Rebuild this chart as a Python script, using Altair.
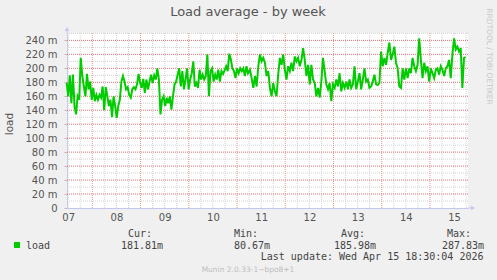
import altair as alt
import numpy as np
import pandas as pd

# ---- data (load, in milli-units) ----
load_part1 = [179, 160, 190, 150, 191, 146, 134, 160, 155, 215, 189, 174, 160, 192, 170,
              181, 155, 172, 153, 162, 155, 162, 158, 174, 140, 173, 160, 146, 155, 130,
              160, 146, 129, 146, 155, 181, 189, 181, 170, 173, 162, 158, 170, 173, 170,
              177, 192, 179, 172, 185, 165, 184, 170, 181, 191, 179, 190, 184, 200, 184,
              134, 155, 160, 146, 158, 150, 160, 141, 160, 177, 181, 191, 200, 174, 196,
              170, 184, 200, 170, 184, 193, 210, 174, 179, 172, 198, 184, 191, 184, 189,
              220, 160, 196, 200, 181, 191, 184, 198, 181, 196, 192, 197, 203, 196, 221,
              213, 200, 196, 186, 200, 193, 200, 196, 200, 189, 203, 193]
load_part2 = [198, 186, 172, 189, 174, 203, 220, 210, 215, 208,
              189, 196, 172, 160, 179, 167, 160, 191, 215, 205,
              220, 198, 184, 203, 196, 208, 196, 217, 210, 215,
              203, 212, 229, 212, 189, 205, 177, 205, 184, 179,
              160, 172, 158, 181, 215, 196, 177, 170, 179, 153,
              177, 172, 184, 174, 193, 167, 179, 172, 181, 170,
              184, 172, 177, 203, 170, 181, 193, 170, 184, 200,
              181, 184, 172, 174, 181, 191, 177, 176, 179, 224,
              203, 215, 205, 222, 237, 212, 220, 231, 208, 200,
              174, 172, 200, 184, 200, 186, 200, 193, 215, 203,
              196, 205, 243, 212, 186, 208, 196, 203, 181, 200,
              193, 186, 198, 200, 191, 203, 198, 189, 200, 203,
              212, 186, 220, 243, 227, 231, 224, 229,
              172, 215, 216]
# time span of each part, in day-of-month units (Apr)
part1_span = [7.469, 11.228]
part2_span = [11.269, 15.740]

day_ticks = [7.5, 8.5, 9.5, 10.5, 11.5, 12.5, 13.5, 14.5, 15.5]
y_label_values = [0, 20, 40, 60, 80, 100, 120, 140, 160, 180, 200, 220, 240]
y_major_grid = [20, 40, 60, 80, 100, 120, 140, 160, 180, 200, 220, 240]
y_minor_grid = [10, 30, 50, 70, 90, 110, 130, 150, 170, 190, 210, 230, 250]
x_major_grid = [8, 9, 10, 11, 12, 13, 14, 15]
x_minor_grid = [d + q for d in range(7, 16) for q in (0.25, 0.5, 0.75) if 7.47 < d + q < 15.79]

stat_names = ["Cur:", "Min:", "Avg:", "Max:"]
stat_values = ["181.81m", "80.67m", "185.98m", "287.83m"]
series_name = "load"
title_text = "Load average - by week"
last_update = "Last update: Wed Apr 15 18:30:04 2026"
footer = "Munin 2.0.33-1~bpo8+1"
side_text = "RRDTOOL / TOBI OETIKER"

# ---- layout ----
W, H = 401, 175
PL, PT = 67, 33
PR, PB = 497 - PL - W, 280 - PT - H

t = np.concatenate([np.linspace(part1_span[0], part1_span[1], len(load_part1)),
                    np.linspace(part2_span[0], part2_span[1], len(load_part2))])
df = pd.DataFrame({"t": t, "v": load_part1 + load_part2})

xs = alt.Scale(domain=[7.4756, 15.788], nice=False, zero=False)
ys = alt.Scale(domain=[0, 250.6], nice=False, zero=False)
AXC = "#C4C8F0"
FONT = "DejaVu Sans"
MONO = "DejaVu Sans Mono"

X_AX = alt.Axis(values=day_ticks,
                labelExpr="(floor(datum.value) < 10 ? '0' : '') + floor(datum.value)",
                grid=False, ticks=False, domainColor=AXC, domainWidth=1,
                labelFont=FONT, labelFontSize=10, labelColor="#555555",
                labelPadding=4, labelOverlap=False, labelFlush=False, title="")
Y_AX = alt.Axis(values=y_label_values,
                labelExpr="datum.value == 0 ? '0' : datum.value + ' m'",
                grid=False, tickSize=3, tickColor="#BBBBBB", domainColor=AXC, domainWidth=1,
                labelFont=FONT, labelFontSize=10, labelColor="#555555",
                labelPadding=7, labelOverlap=False, labelFlush=False, title="")

def hgrid(vals, color):
    return alt.Chart(pd.DataFrame({"v": vals})).mark_rule(
        color=color, strokeWidth=1, strokeDash=[1, 1]).encode(
        y=alt.Y("v:Q", scale=ys, axis=Y_AX))

def vgrid(vals, color):
    return alt.Chart(pd.DataFrame({"t": vals})).mark_rule(
        color=color, strokeWidth=1, strokeDash=[1, 1]).encode(
        x=alt.X("t:Q", scale=xs, axis=X_AX))

one = pd.DataFrame({"k": [0]})

def txt(s, x, y, **kw):
    return alt.Chart(one).mark_text(**kw).encode(
        x=alt.value(x - PL), y=alt.value(y - PT), text=alt.value(s))

GRAY = "#D2D2D2"
RED = "#EC9494"
RED_H = "#E27070"

line = alt.Chart(df).mark_line(color="#00CC00", strokeWidth=2).encode(
    x=alt.X("t:Q", scale=xs, axis=X_AX),
    y=alt.Y("v:Q", scale=ys, axis=Y_AX))

# axis extensions + arrows
xext = alt.Chart(one).mark_rule(color=AXC).encode(
    x=alt.value(W), x2=alt.value(W + 4), y=alt.value(H))
yext = alt.Chart(one).mark_rule(color=AXC).encode(
    x=alt.value(0), y=alt.value(-4), y2=alt.value(0))
xarrow = alt.Chart(one).mark_point(shape="triangle-right", filled=True, size=22,
                                   color=AXC, opacity=1).encode(
    x=alt.value(W + 5), y=alt.value(H))
yarrow = alt.Chart(one).mark_point(shape="triangle-up", filled=True, size=22,
                                   color=AXC, opacity=1).encode(
    x=alt.value(0), y=alt.value(-4))

legend_sq = alt.Chart(one).mark_square(color="#00CC00", size=36, opacity=1).encode(
    x=alt.value(17 - PL), y=alt.value(245 - PT))

texts = [
    txt(title_text, 248, 12, font=FONT, fontSize=13, color="#555555", align="center", baseline="middle"),
    txt("load", 10, 124, font=FONT, fontSize=10.5, color="#555555", align="center", baseline="middle", angle=270),
    txt(side_text, 488.5, 56.5, font=FONT, fontSize=7.5, color="#C8C8C8", align="center", baseline="middle", angle=90),
    txt(series_name, 26, 245.5, font=MONO, fontSize=10, color="#444444", align="left", baseline="middle"),
    txt(last_update, 483.5, 257, font=MONO, fontSize=10, color="#444444", align="right", baseline="middle"),
    txt(footer, 248, 269.5, font=FONT, fontSize=7.5, color="#BDBDBD", align="center", baseline="middle"),
]
for name, xpos in zip(stat_names, [128, 234, 341, 447]):
    texts.append(txt(name, xpos, 234, font=MONO, fontSize=10, color="#444444", align="left", baseline="middle"))
for val, xpos in zip(stat_values, [121, 234, 334, 442]):
    texts.append(txt(val, xpos, 245.5, font=MONO, fontSize=10, color="#444444", align="left", baseline="middle"))

chart = alt.layer(
    hgrid(y_minor_grid, GRAY), vgrid(x_minor_grid, GRAY),
    hgrid(y_major_grid, RED_H), vgrid(x_major_grid, RED),
    line, xext, yext, xarrow, yarrow, legend_sq, *texts
).properties(
    width=W, height=H,
    autosize=alt.AutoSizeParams(type="none"),
    padding={"left": PL, "top": PT, "right": PR, "bottom": PB},
    background="#F0F0F0",
).configure_view(fill="white", strokeWidth=0)

chart.save("out.html", embed_options={"renderer": "svg", "actions": False})
